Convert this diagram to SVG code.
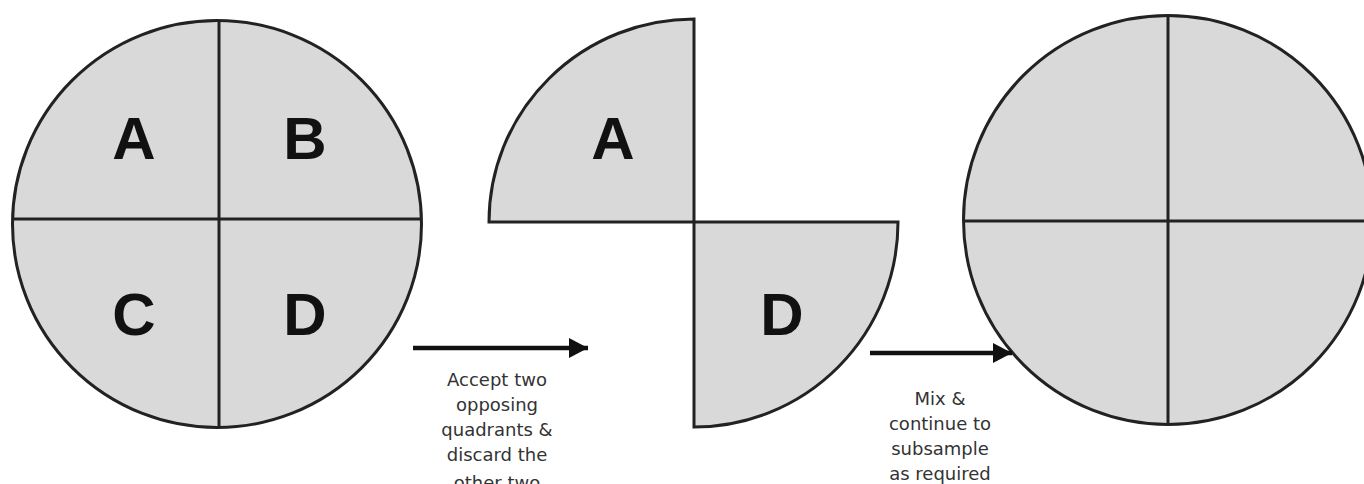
<svg xmlns="http://www.w3.org/2000/svg" width="1364" height="484" viewBox="0 0 1364 484">
<style>
.shape{fill:#d9d9d9;stroke:#222;stroke-width:3;stroke-linejoin:miter}
.div{stroke:#222;stroke-width:3;fill:none}
.big{font-family:"Liberation Sans",Arial,sans-serif;font-weight:bold;font-size:60px;fill:#111;text-anchor:middle}
.cap{font-family:"DejaVu Sans",Verdana,sans-serif;font-size:18px;fill:#333;text-anchor:middle}
.arr{stroke:#111;stroke-width:4.5;fill:none}
</style>
<defs>
<marker id="ah" markerUnits="userSpaceOnUse" markerWidth="20" markerHeight="22" refX="19" refY="11" orient="auto">
<path d="M0,1 L19,11 L0,21 Z" fill="#111"/>
</marker>
</defs>
<rect width="1364" height="484" fill="#fff"/>
<g id="full-circle">
<ellipse class="shape" cx="217" cy="224" rx="204.5" ry="203.5"/>
<line class="div" x1="219" y1="20.5" x2="219" y2="428"/>
<line class="div" x1="13" y1="219" x2="421" y2="219"/>
<text class="big" x="134" y="159">A</text>
<text class="big" x="305" y="159">B</text>
<text class="big" x="134" y="335">C</text>
<text class="big" x="305" y="335">D</text>
</g>
<g id="kept-quadrants">
<path class="shape" d="M694,222 L489,222 A205,203 0 0 1 694,19 Z"/>
<path class="shape" d="M694,222 L898,222 A204,205 0 0 1 694,427 Z"/>
<text class="big" x="613" y="159">A</text>
<text class="big" x="782" y="335">D</text>
</g>
<g id="mixed-circle">
<circle class="shape" cx="1168" cy="220" r="204.5"/>
<line class="div" x1="1168" y1="15.5" x2="1168" y2="424.5"/>
<line class="div" x1="964" y1="221" x2="1364" y2="221"/>
</g>
<g id="connectors">
<line class="arr" x1="413" y1="348" x2="588" y2="348" marker-end="url(#ah)"/>
<line class="arr" x1="870" y1="353" x2="1012" y2="353" marker-end="url(#ah)"/>
</g>
<g id="labels">
<text class="cap" x="497" y="386">Accept two</text>
<text class="cap" x="497" y="411">opposing</text>
<text class="cap" x="497" y="436">quadrants &amp;</text>
<text class="cap" x="497" y="461">discard the</text>
<text class="cap" x="497" y="489">other two</text>
<text class="cap" x="940" y="405">Mix &amp;</text>
<text class="cap" x="940" y="430">continue to</text>
<text class="cap" x="940" y="455">subsample</text>
<text class="cap" x="940" y="480">as required</text>
</g>
</svg>
